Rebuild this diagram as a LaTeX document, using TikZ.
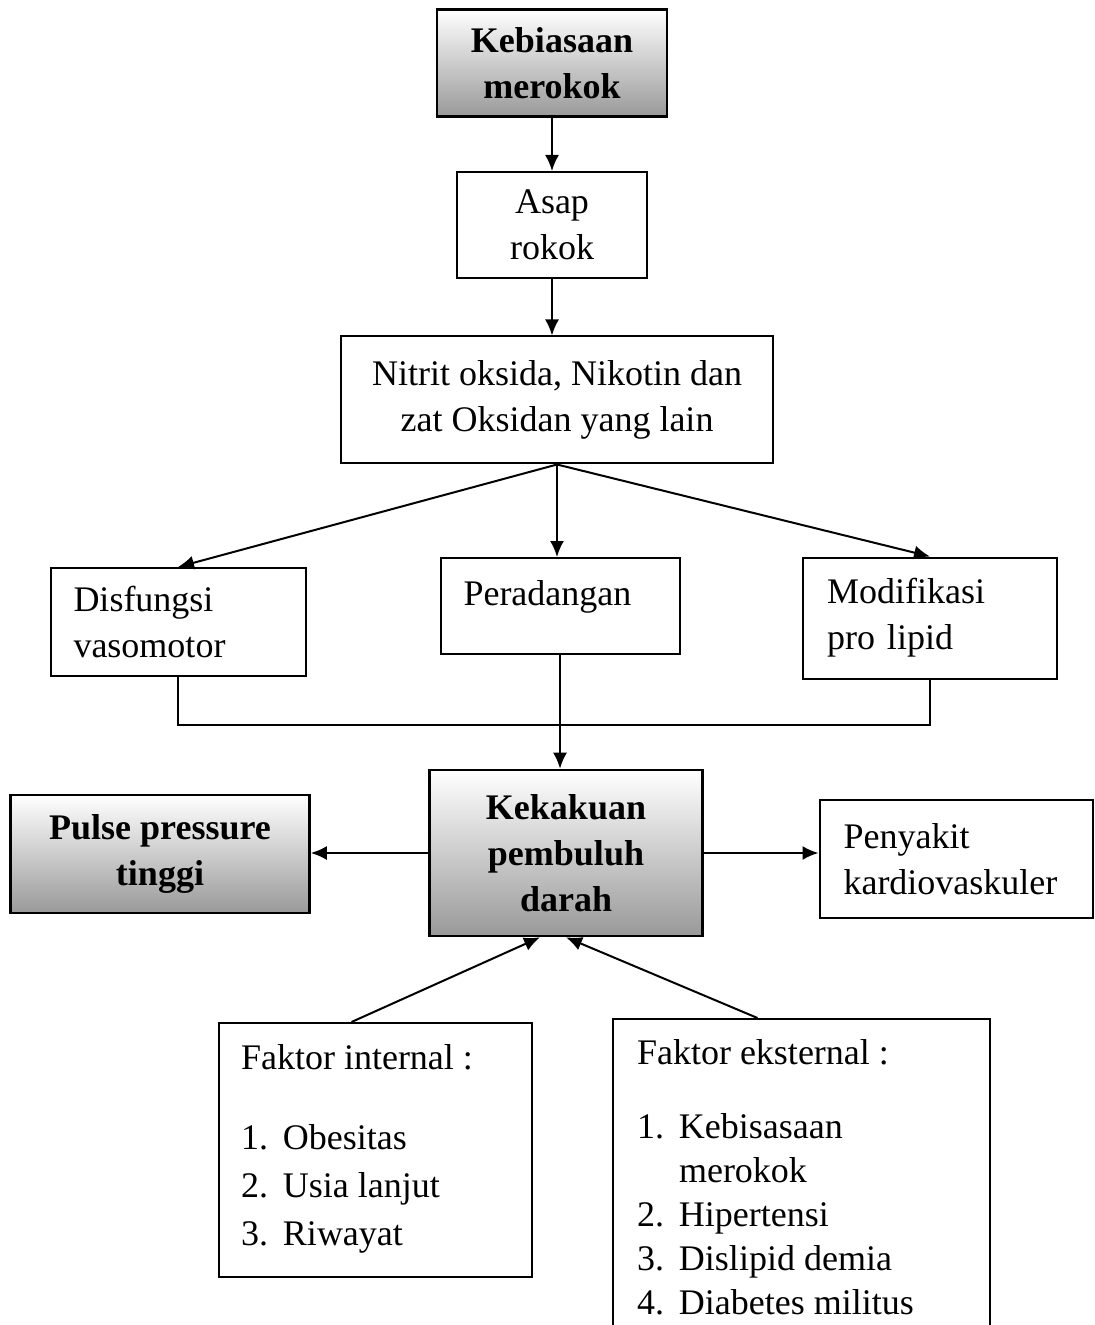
\documentclass[tikz,border=0pt]{standalone}
\usepackage{fontspec}
\setmainfont{Liberation Serif}
\usepackage{tikz}
\usepackage{xcolor}
\usetikzlibrary{arrows.meta}
\newcommand{\itm}[2]{\makebox[21pt][l]{#1}#2}
\tikzset{
    plain-box/.style = {draw, line width=1pt, rectangle, inner sep=0pt, font=\fontsize{18}{23}\selectfont},
    shade-box/.style = {plain-box, line width=1.3pt, top color=white, middle color=gray!25, bottom color=gray!80, font=\fontsize{18}{23}\selectfont\bfseries, align=center},
    flow-arrow/.style = {line width=1pt, -{Latex[length=8pt,width=7pt]}},
    flow-line/.style = {line width=1pt},
}

\begin{document}
\begin{tikzpicture}[x=0.5pt,y=-0.5pt]
\useasboundingbox (0,0) rectangle (1095,1325);

\node [shade-box, minimum width=115pt, minimum height=53.5pt] (kebiasaan) at (552,63)
    {Kebiasaan\\merokok};
\node [plain-box, minimum width=95pt, minimum height=53pt, align=center, text depth=-5pt] (asap) at (552,225)
    {Asap\\rokok};
\node [plain-box, minimum width=216pt, minimum height=63.5pt, align=center] (nitrit) at (557,400)
    {Nitrit oksida, Nikotin dan\\zat Oksidan yang lain};

\node [plain-box, minimum height=54pt, inner xsep=11.5pt, text width=104.5pt, align=left] (disfungsi) at (178,622)
    {Disfungsi\\vasomotor};
\node [plain-box, minimum height=48pt, inner xsep=11.5pt, text width=96.5pt, align=left, text depth=13pt] (peradangan) at (560,606)
    {Peradangan};
\node [plain-box, minimum height=60.5pt, inner xsep=12pt, text width=103pt, align=left] (modifikasi) at (930,618)
    {Modifikasi\\pro lipid};

\node [shade-box, minimum width=136.5pt, minimum height=83pt] (kekakuan) at (566,853)
    {Kekakuan\\pembuluh\\darah};
\node [shade-box, minimum width=149.5pt, minimum height=59pt] (pulse) at (160,854)
    {Pulse pressure\\tinggi};
\node [plain-box, minimum height=59pt, inner xsep=12pt, text width=112.5pt, align=left] (penyakit) at (956,859)
    {Penyakit\\kardiovaskuler};

\node [plain-box, anchor=north, inner xsep=11pt, inner ysep=11pt] (internal) at (375.5,1022)
    {\parbox[c][105pt][t]{134.5pt}{\raggedright\baselineskip=24pt
    Faktor internal :\\[16pt]
    \itm{1.}{Obesitas}\\
    \itm{2.}{Usia lanjut}\\
    \itm{3.}{Riwayat}}};
\node [plain-box, anchor=north, inner xsep=12pt, inner ysep=10.5pt] (eksternal) at (801.5,1018)
    {\parbox[c][141pt][t]{164.5pt}{\raggedright\baselineskip=22pt
    Faktor eksternal :\\[15pt]
    \itm{1.}{Kebisasaan}\\
    \hspace*{21pt}merokok\\
    \itm{2.}{Hipertensi}\\
    \itm{3.}{Dislipid demia}\\
    \itm{4.}{Diabetes militus}}};

% alur utama
\draw [flow-arrow] (kebiasaan) -- (asap);
\draw [flow-arrow] (asap) -- (asap |- nitrit.north);
\draw [flow-arrow] (nitrit.south) -- (disfungsi.north);
\draw [flow-arrow] (nitrit.south) -- (nitrit.south |- peradangan.north);
\draw [flow-arrow] (nitrit.south) -- (modifikasi.north);

% gabungan ke kekakuan
\coordinate (merge) at (558,725);
\draw [flow-line] (disfungsi.south) |- (modifikasi.south |- merge) -- (modifikasi.south);
\draw [flow-arrow] (peradangan.south) -- (peradangan.south |- kekakuan.north);

\draw [flow-arrow] (kekakuan.west) -- (kekakuan.west -| pulse.east);
\draw [flow-arrow] (kekakuan.east) -- (kekakuan.east -| penyakit.west);

% faktor
\draw [flow-arrow] ([xshift=-12pt]internal.north) -- ([xshift=-13pt]kekakuan.south);
\draw [flow-arrow] ([xshift=-22pt]eksternal.north) -- (kekakuan.south);
\end{tikzpicture}
\end{document}
